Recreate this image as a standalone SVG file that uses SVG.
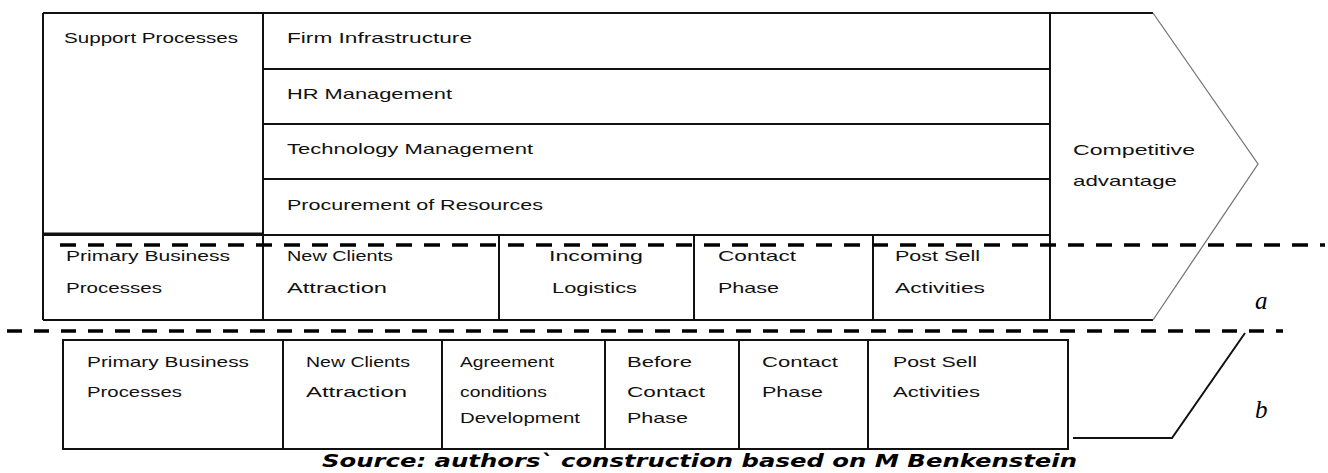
<svg xmlns="http://www.w3.org/2000/svg" width="1328" height="473" viewBox="0 0 1328 473">
<style>
.ln{stroke:#111;stroke-width:2;fill:none}
.th{stroke:#777;stroke-width:1.3;fill:none}
.t{font-family:"Liberation Sans","DejaVu Sans",sans-serif;font-size:15px;fill:#111}
.dash{stroke:#000;stroke-width:3.5;fill:none}
.lab{font-family:"Liberation Serif",serif;font-style:italic;font-size:25px;fill:#000}
.src{font-family:"DejaVu Sans","Liberation Sans",sans-serif;font-style:italic;font-weight:bold;font-size:17px;fill:#000}
</style>
<rect width="1328" height="473" fill="#fff"/>
<g id="top-frame">
<path class="ln" d="M43,13 H1153 M43,320 H1153 M43,13 V320 M263,13 V320 M1050,13 V320 M263,69 H1050 M263,124 H1050 M263,179 H1050 M43,235 H1050 M499,235 V320 M694,235 V320 M873,235 V320"/>
<path class="ln" d="M43,233.5 H263" stroke-width="3"/>
<path class="th" d="M1153,13 L1258,164 L1153,320"/>
</g>
<g id="support"><text class="t" x="64" y="43" textLength="174" lengthAdjust="spacingAndGlyphs">Support Processes</text></g>
<g id="firm"><text class="t" x="287" y="43" textLength="185" lengthAdjust="spacingAndGlyphs">Firm Infrastructure</text></g>
<g id="hr"><text class="t" x="287" y="99" textLength="165" lengthAdjust="spacingAndGlyphs">HR Management</text></g>
<g id="tech"><text class="t" x="287" y="154" textLength="246" lengthAdjust="spacingAndGlyphs">Technology Management</text></g>
<g id="proc"><text class="t" x="287" y="210" textLength="256" lengthAdjust="spacingAndGlyphs">Procurement of Resources</text></g>
<g id="comp"><text class="t" x="1073" y="155" textLength="122" lengthAdjust="spacingAndGlyphs">Competitive</text><text class="t" x="1073" y="186" textLength="104" lengthAdjust="spacingAndGlyphs">advantage</text></g>
<g id="a-primary"><text class="t" x="66" y="261" textLength="164" lengthAdjust="spacingAndGlyphs">Primary Business</text><text class="t" x="66" y="293" textLength="96" lengthAdjust="spacingAndGlyphs">Processes</text></g>
<g id="a-new"><text class="t" x="287" y="261" textLength="106" lengthAdjust="spacingAndGlyphs">New Clients</text><text class="t" x="287" y="293" textLength="100" lengthAdjust="spacingAndGlyphs">Attraction</text></g>
<g id="a-incoming"><text class="t" x="549" y="261" textLength="94" lengthAdjust="spacingAndGlyphs">Incoming</text><text class="t" x="552" y="293" textLength="85" lengthAdjust="spacingAndGlyphs">Logistics</text></g>
<g id="a-contact"><text class="t" x="718" y="261" textLength="78" lengthAdjust="spacingAndGlyphs">Contact</text><text class="t" x="718" y="293" textLength="61" lengthAdjust="spacingAndGlyphs">Phase</text></g>
<g id="a-post"><text class="t" x="895" y="261" textLength="85" lengthAdjust="spacingAndGlyphs">Post Sell</text><text class="t" x="895" y="293" textLength="90" lengthAdjust="spacingAndGlyphs">Activities</text></g>
<g id="bottom-frame">
<rect class="ln" x="63" y="340" width="1005" height="109"/>
<path class="ln" d="M283,340 V449 M442,340 V449 M605,340 V449 M739,340 V449 M868,340 V449"/>
</g>
<g id="b-primary"><text class="t" x="87" y="367" textLength="162" lengthAdjust="spacingAndGlyphs">Primary Business</text><text class="t" x="87" y="397" textLength="95" lengthAdjust="spacingAndGlyphs">Processes</text></g>
<g id="b-new"><text class="t" x="306" y="367" textLength="104" lengthAdjust="spacingAndGlyphs">New Clients</text><text class="t" x="306" y="397" textLength="101" lengthAdjust="spacingAndGlyphs">Attraction</text></g>
<g id="b-agree"><text class="t" x="460" y="367" textLength="94" lengthAdjust="spacingAndGlyphs">Agreement</text><text class="t" x="460" y="397" textLength="87" lengthAdjust="spacingAndGlyphs">conditions</text><text class="t" x="460" y="423" textLength="120" lengthAdjust="spacingAndGlyphs">Development</text></g>
<g id="b-before"><text class="t" x="627" y="367" textLength="65" lengthAdjust="spacingAndGlyphs">Before</text><text class="t" x="627" y="397" textLength="78" lengthAdjust="spacingAndGlyphs">Contact</text><text class="t" x="627" y="423" textLength="61" lengthAdjust="spacingAndGlyphs">Phase</text></g>
<g id="b-contact"><text class="t" x="762" y="367" textLength="76" lengthAdjust="spacingAndGlyphs">Contact</text><text class="t" x="762" y="397" textLength="61" lengthAdjust="spacingAndGlyphs">Phase</text></g>
<g id="b-post"><text class="t" x="893" y="367" textLength="84" lengthAdjust="spacingAndGlyphs">Post Sell</text><text class="t" x="893" y="397" textLength="87" lengthAdjust="spacingAndGlyphs">Activities</text></g>
<g id="connectors">
<path class="dash" d="M60,245 H1325" stroke-dasharray="16 12"/>
<path class="dash" d="M7,331 H1283" stroke-dasharray="15 12"/>
<polyline class="ln" points="1073,438 1172,438 1245,333"/>
</g>
<g id="labels">
<text class="lab" x="1255" y="309">a</text>
<text class="lab" x="1255" y="418">b</text>
<text class="src" x="322" y="467" textLength="755" lengthAdjust="spacingAndGlyphs">Source: authors` construction based on M Benkenstein</text>
</g>
</svg>
